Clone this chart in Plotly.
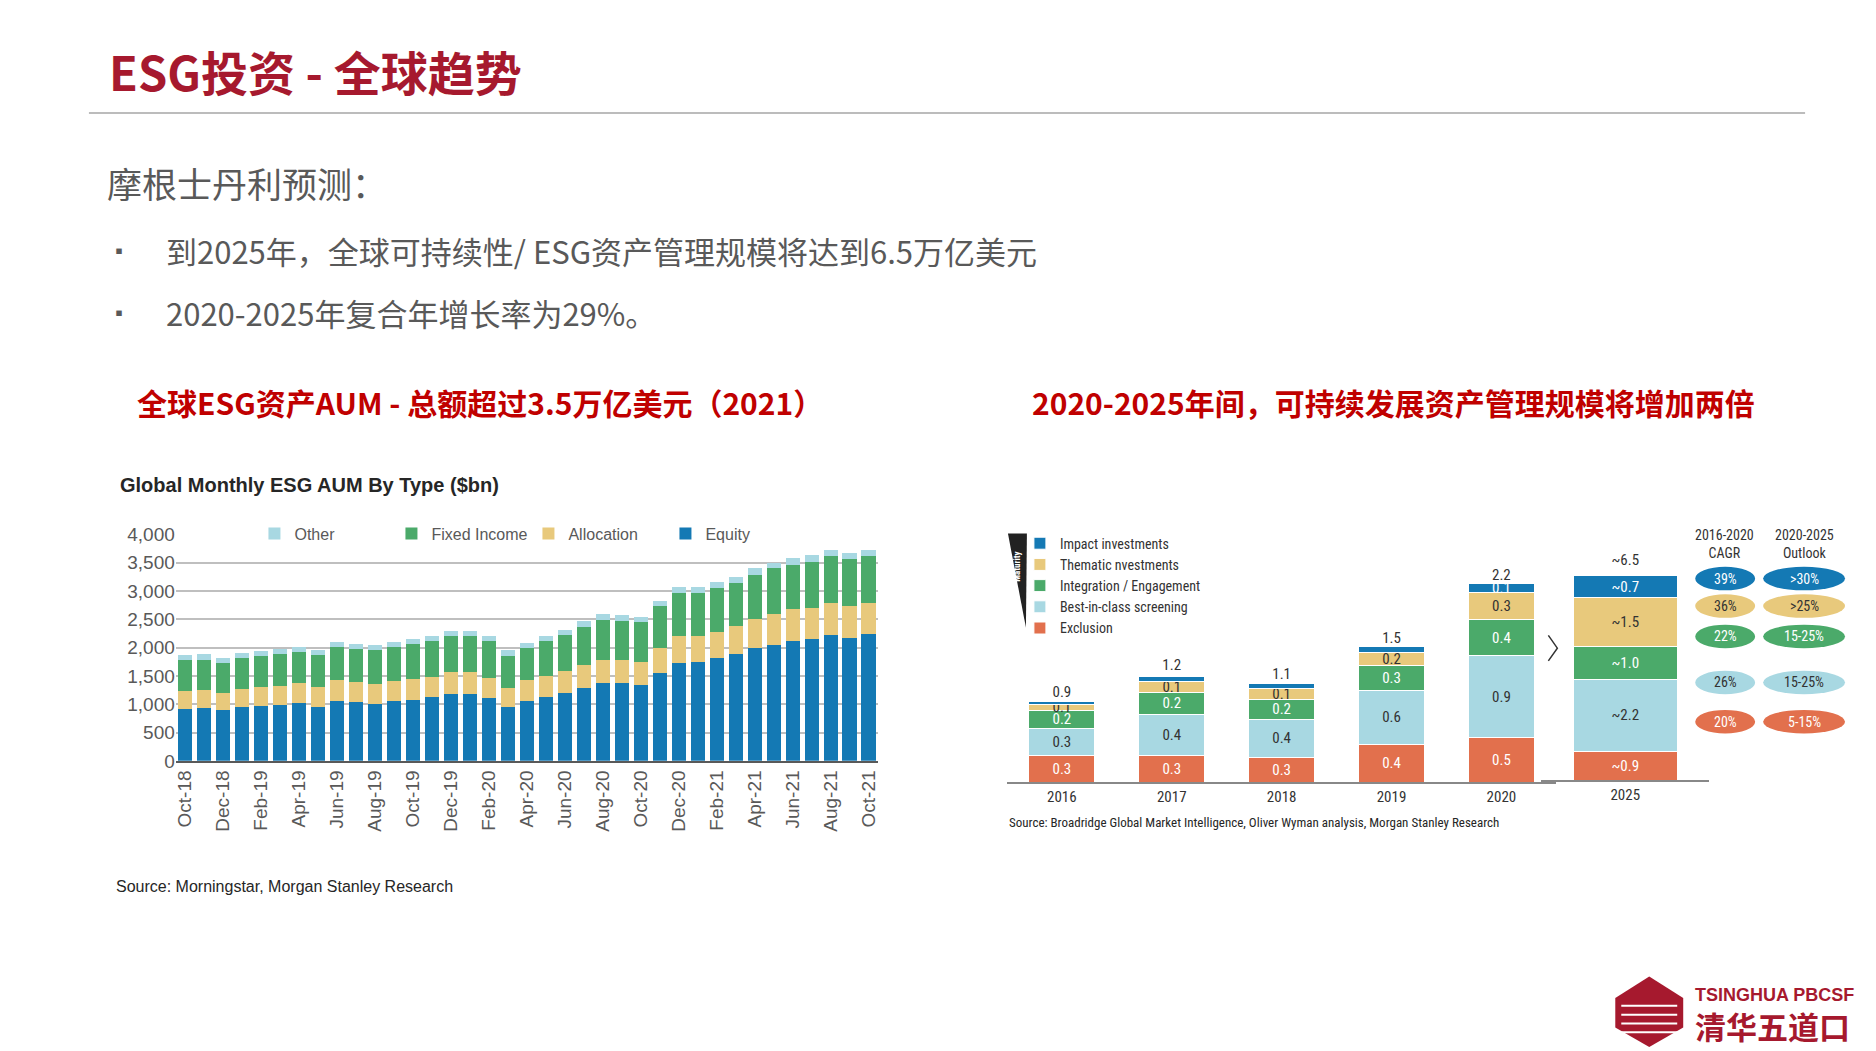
import plotly.graph_objects as go

W, H = 1876, 1051
def px(x): return x / W
def py(y): return 1 - y / H

# ---- left chart data: Global Monthly ESG AUM by type ($bn)
months = ['Oct-18','Nov-18','Dec-18','Jan-19','Feb-19','Mar-19','Apr-19','May-19','Jun-19','Jul-19',
          'Aug-19','Sep-19','Oct-19','Nov-19','Dec-19','Jan-20','Feb-20','Mar-20','Apr-20','May-20',
          'Jun-20','Jul-20','Aug-20','Sep-20','Oct-20','Nov-20','Dec-20','Jan-21','Feb-21','Mar-21',
          'Apr-21','May-21','Jun-21','Jul-21','Aug-21','Sep-21','Oct-21']
equity = [925,935,890,950,975,990,1020,960,1060,1040,1010,1060,1080,1120,1185,1180,1105,960,1065,1135,
          1200,1290,1380,1380,1345,1560,1730,1750,1810,1890,1990,2055,2120,2150,2220,2170,2250]
allocation = [315,315,310,325,325,340,350,340,360,350,350,350,370,370,385,390,365,330,355,365,
              385,405,410,405,410,440,470,460,470,490,520,545,560,550,570,570,540]
fixed_income = [540,535,535,535,545,550,560,565,585,590,600,595,615,620,640,630,640,570,580,610,
                635,675,700,690,695,730,760,760,770,760,780,800,780,810,830,820,830]
other = [95,95,85,95,95,95,80,85,90,90,85,90,85,90,90,90,90,90,90,90,
         90,100,105,95,100,100,110,110,110,110,110,100,130,130,110,120,110]

# ---- right chart data: sustainable AUM by strategy ($tn)
years = ['2016','2017','2018','2019','2020']
exclusion = [0.3, 0.3, 0.28, 0.42, 0.5]
best_in_class = [0.3, 0.45, 0.42, 0.6, 0.9]
integration = [0.2, 0.25, 0.22, 0.27, 0.4]
thematic = [0.06, 0.12, 0.12, 0.15, 0.3]
impact = [0.04, 0.05, 0.06, 0.07, 0.1]
totals = [0.9, 1.2, 1.1, 1.5, 2.2]
lbl_excl = ['0.3','0.3','0.3','0.4','0.5']
lbl_best = ['0.3','0.4','0.4','0.6','0.9']
lbl_integ = ['0.2','0.2','0.2','0.3','0.4']
lbl_them = ['0.1','0.1','0.1','0.2','0.3']
lbl_imp = ['','','','','0.1']
y2025 = ['2025']
v2025 = [0.9, 2.2, 1.0, 1.5, 0.7]
lbl2025 = ['~0.9','~2.2','~1.0','~1.5','~0.7']
total2025 = 6.5
cagr = ['39%','36%','22%','26%','20%']
outlook = ['>30%','>25%','15-25%','15-25%','5-15%']

C_EQ, C_AL, C_FI, C_OT = '#1479B4', '#E8C97C', '#4BAA6A', '#A8D8E2'
C_EX = '#E2704D'
RED = '#A6192E'
SANS = 'Liberation Sans, Arial, sans-serif'
NARROW = 'Liberation Sans Narrow, Roboto Condensed, Arial Narrow, sans-serif'
CJK = 'Noto Sans CJK SC, sans-serif'

fig = go.Figure()

# left stacked bars
for name, vals, col in [('Equity', equity, C_EQ), ('Allocation', allocation, C_AL),
                        ('Fixed Income', fixed_income, C_FI), ('Other', other, C_OT)]:
    fig.add_trace(go.Bar(x=months, y=vals, name=name, marker=dict(color=col, line_width=0),
                         xaxis='x', yaxis='y', legend='legend'))

# right stacked bars 2016-2020 and 2025
seg = [('Exclusion', exclusion, lbl_excl, C_EX, 'white'),
       ('Best-in-class screening', best_in_class, lbl_best, C_OT, '#333333'),
       ('Integration / Engagement', integration, lbl_integ, C_FI, 'white'),
       ('Thematic nvestments', thematic, lbl_them, C_AL, '#333333'),
       ('Impact investments', impact, lbl_imp, C_EQ, 'white')]
for i, (name, vals, lbl, col, tc) in enumerate(seg):
    fig.add_trace(go.Bar(x=years, y=vals, name=name, text=lbl, textposition='inside',
                         insidetextanchor='middle', constraintext='none', width=0.6,
                         textfont=dict(family=NARROW, size=15, color=tc),
                         marker=dict(color=col, line=dict(color='white', width=1)),
                         xaxis='x2', yaxis='y2', legend='legend2'))
    fig.add_trace(go.Bar(x=y2025, y=[v2025[i]], text=[lbl2025[i]], textposition='inside',
                         insidetextanchor='middle', constraintext='none', showlegend=False,
                         width=0.62, textfont=dict(family=NARROW, size=15, color=tc),
                         marker=dict(color=col, line=dict(color='white', width=1)),
                         xaxis='x3', yaxis='y3'))
fig.add_trace(go.Scatter(x=years, y=totals, mode='text', text=[str(t) for t in totals],
                         textposition='top center', textfont=dict(family=NARROW, size=15, color='#333'),
                         showlegend=False, xaxis='x2', yaxis='y2'))
fig.add_trace(go.Scatter(x=y2025, y=[total2025], mode='text', text=['~6.5'],
                         textposition='top center', textfont=dict(family=NARROW, size=15, color='#333'),
                         showlegend=False, xaxis='x3', yaxis='y3'))

fig.update_layout(
    width=W, height=H, margin=dict(l=0, r=0, t=0, b=0), barmode='stack',
    paper_bgcolor='white', plot_bgcolor='white', font=dict(family=SANS),
    xaxis=dict(domain=[px(167), px(870)], tickangle=-90, tickvals=months[::2],
               tickfont=dict(size=19, color='#595959'), showline=True, linecolor='#595959',
               linewidth=2, ticks=''),
    yaxis=dict(domain=[py(758), py(527)], range=[0, 4000], dtick=500, tickformat=',',
               tickfont=dict(size=19, color='#595959'), gridcolor='#BFBFBF', gridwidth=1.5,
               zeroline=False, anchor='x'),
    bargap=0.25,
    legend=dict(orientation='h', x=px(520), xanchor='center', y=py(526), yanchor='middle',
                traceorder='reversed', bgcolor='white', font=dict(size=16, color='#595959'),
                itemwidth=30, entrywidth=92),
    xaxis2=dict(domain=[px(999), px(1549)], anchor='y2', showline=True, linecolor='#888',
                linewidth=2, tickfont=dict(family=NARROW, size=15, color='#333'), ticks=''),
    yaxis2=dict(domain=[py(780), py(522)], range=[0, 2.8], visible=False),
    xaxis3=dict(domain=[px(1534), px(1702)], anchor='y3', showline=True, linecolor='#888',
                linewidth=2, tickfont=dict(family=NARROW, size=15, color='#333'), ticks=''),
    yaxis3=dict(domain=[py(778), py(512)], range=[0, 8], visible=False),
    legend2=dict(x=px(1012), y=py(520), xanchor='left', yanchor='top', traceorder='reversed',
                 font=dict(family=NARROW, size=14, color='#333'), tracegroupgap=0,
                 bgcolor='rgba(0,0,0,0)', itemwidth=30),
)

ann = []
def A(x, y, t, size, color='#333', fam=CJK, xa='left', bold=False, **kw):
    if bold:
        t = '<b>' + t + '</b>'
    ann.append(dict(x=px(x), y=py(y), xref='paper', yref='paper', text=t, showarrow=False,
                    xanchor=xa, yanchor='middle', font=dict(family=fam, size=size, color=color), **kw))

A(98, 54, 'ESG投资 - 全球趋势', 47, RED, bold=True)
A(96, 168, '摩根士丹利预测：', 35, '#595959')
A(98, 237, '▪', 20, '#595959')
A(155, 237, '到2025年，全球可持续性/ ESG资产管理规模将达到6.5万亿美元', 31, '#595959')
A(98, 300, '▪', 20, '#595959')
A(155, 300, '2020-2025年复合年增长率为29%。', 31, '#595959')
A(126, 392, '全球ESG资产AUM - 总额超过3.5万亿美元（2021）', 30, '#C00000', bold=True)
A(1022, 392, '2020-2025年间，可持续发展资产管理规模将增加两倍', 30, '#C00000', bold=True)
A(109, 477, 'Global Monthly ESG AUM By Type ($bn)', 20, '#262626', fam=SANS, bold=True)
A(105, 886, 'Source: Morningstar, Morgan Stanley Research', 16, '#262626', fam=SANS)
A(999, 821, 'Source: Broadridge Global Market Intelligence, Oliver Wyman analysis, Morgan Stanley Research',
  13, '#262626', fam=NARROW)
A(1717, 537, '2016-2020<br>CAGR', 14, '#333', fam=NARROW, xa='center')
A(1797, 537, '2020-2025<br>Outlook', 14, '#333', fam=NARROW, xa='center')
A(1009, 560, 'Maturity', 9, 'white', fam=NARROW, xa='center', bold=True, textangle=-90)

shapes = [dict(type='line', xref='paper', yref='paper', x0=px(80), x1=px(1798), y0=py(97), y1=py(97),
               line=dict(color='#A6A6A6', width=1.5)),
          dict(type='path', xref='paper', yref='paper',
               path=f'M {px(1000)} {py(526)} L {px(1019)} {py(526)} L {px(1018)} {py(622)} Z',
               fillcolor='#222', line=dict(width=0)),
          dict(type='path', xref='paper', yref='paper',
               path=f'M {px(1541)} {py(630)} L {px(1550)} {py(643)} L {px(1541)} {py(656)}',
               line=dict(color='#333', width=1.5))]
oval_cols = [C_EQ, C_AL, C_FI, C_OT, C_EX]
oval_y = [572, 600, 631, 678, 718]
for c, oy, t1, t2 in zip(oval_cols, oval_y, cagr, outlook):
    tc = '#333' if c in (C_AL, C_OT) else 'white'
    shapes.append(dict(type='circle', xref='paper', yref='paper', x0=px(1688), x1=px(1748),
                       y0=py(oy + 12), y1=py(oy - 12), fillcolor=c, line=dict(width=0)))
    shapes.append(dict(type='circle', xref='paper', yref='paper', x0=px(1756), x1=px(1838),
                       y0=py(oy + 12), y1=py(oy - 12), fillcolor=c, line=dict(width=0)))
    A(1718, oy, t1, 14, tc, fam=NARROW, xa='center')
    A(1797, oy, t2, 14, tc, fam=NARROW, xa='center')

# logo
shapes.append(dict(type='path', xref='paper', yref='paper',
                   path=f'M {px(1642)} {py(978)} L {px(1676)} {py(1000)} L {px(1676)} {py(1030)} '
                        f'L {px(1642)} {py(1050)} L {px(1608)} {py(1030)} L {px(1608)} {py(1000)} Z',
                   fillcolor=RED, line=dict(width=0)))
for k in range(4):
    yy = 1008 + k * 9
    shapes.append(dict(type='line', xref='paper', yref='paper', x0=px(1614), x1=px(1670),
                       y0=py(yy), y1=py(yy), line=dict(color='white', width=2)))
A(1686, 997, 'TSINGHUA PBCSF', 18, RED, fam=SANS, bold=True)
A(1686, 1028, '清华五道口', 31, RED, bold=True)

fig.update_layout(annotations=ann, shapes=shapes)
fig.write_html('out.html')
